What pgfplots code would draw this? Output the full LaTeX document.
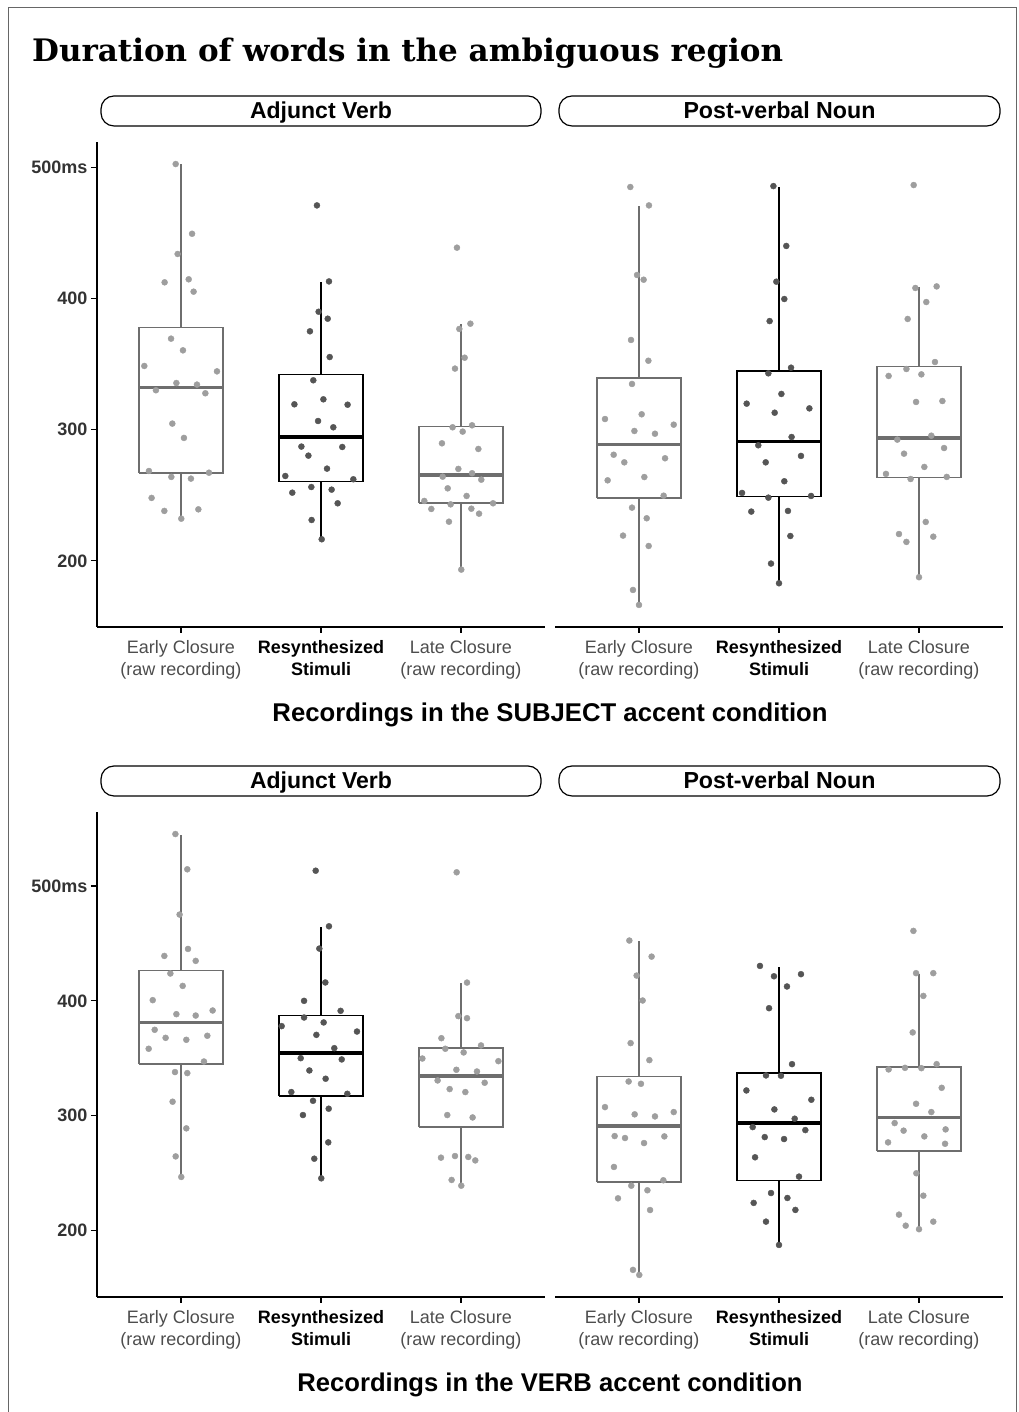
\documentclass[border=0pt]{standalone}
\usepackage{pgfplots}
\pgfplotsset{compat=1.18}
\usepackage{fontspec}
\setmainfont{Liberation Sans}
\newfontfamily\titlefont{DejaVu Serif}
\definecolor{ptlight}{HTML}{9E9E9E}
\definecolor{ptdark}{HTML}{555555}
\definecolor{boxgray}{HTML}{6E6E6E}
\definecolor{labgray}{HTML}{4D4D4D}
\definecolor{ticklab}{HTML}{333333}

% #1 colour, #2 left, #3 centre, #4 right, #5 lower whisker, #6 lower quartile, #7 median, #8 upper quartile, #9 upper whisker
\newcommand{\bx}[9]{%
  \addplot[#1, line width=1.7pt, forget plot] coordinates {(#3,#8) (#3,#9)};
  \addplot[#1, line width=1.7pt, forget plot] coordinates {(#3,#6) (#3,#5)};
  \addplot[#1, line width=1.7pt, fill=white, line join=miter, forget plot] coordinates {(#2,#6) (#4,#6) (#4,#8) (#2,#8) (#2,#6)};
  \addplot[#1, line width=3.6pt, forget plot] coordinates {(#2,#7) (#4,#7)};
}

\pgfplotsset{
  panel/.style={
    scale only axis, width=448pt, height=485pt,
    xmin=0.4, xmax=3.6,
    axis x line*=bottom, axis y line*=left,
    axis line style={line width=1.1pt, black},
    xtick={1,2,3},
    xticklabels={{\color{labgray}Early Closure\\\color{labgray}(raw recording)},
                 {\bfseries Resynthesized\\\bfseries Stimuli},
                 {\color{labgray}Late Closure\\\color{labgray}(raw recording)}},
    xticklabel style={align=center, font=\fontsize{18}{22}\selectfont, yshift=-4pt},
    ytick={200,300,400,500},
    yticklabels={\textbf{200},\textbf{300},\textbf{400},\textbf{500ms}},
    yticklabel style={font=\fontsize{18}{22}\selectfont, text=ticklab},
    tick style={line width=1.1pt, black},
    tick align=outside,
    major tick length=6pt,
  },
  rpanel/.style={panel, axis y line=none, ytick=\empty},
  ptl/.style={only marks, mark=*, mark size=3pt, color=ptlight, mark options={draw=none, fill=ptlight}},
  ptd/.style={only marks, mark=*, mark size=3pt, color=ptdark, mark options={draw=none, fill=ptdark}},
}

\begin{document}
\begin{tikzpicture}
\path[use as bounding box] (0pt,0pt) rectangle (1018pt,1412pt);
\draw[line width=1pt, black!60] (8pt,-2pt) -- (8pt,1404pt) -- (1016pt,1404pt) -- (1016pt,-2pt);

\node[anchor=base west, inner sep=0pt] at (32pt,1350pt) {\resizebox{751pt}{!}{\titlefont\bfseries Duration of words in the ambiguous region}};

\draw[line width=1.2pt, rounded corners=13pt] (101pt,1286pt) rectangle (541pt,1316pt);
\draw[line width=1.2pt, rounded corners=13pt] (559pt,1286pt) rectangle (1000pt,1316pt);
\node[anchor=base, inner sep=0pt] at (321pt,1293pt) {\resizebox{142pt}{!}{\bfseries Adjunct Verb}};
\node[anchor=base, inner sep=0pt] at (779.5pt,1293pt) {\resizebox{192pt}{!}{\bfseries Post-verbal Noun}};
\draw[line width=1.2pt, rounded corners=13pt] (101pt,616pt) rectangle (541pt,646pt);
\draw[line width=1.2pt, rounded corners=13pt] (559pt,616pt) rectangle (1000pt,646pt);
\node[anchor=base, inner sep=0pt] at (321pt,623pt) {\resizebox{142pt}{!}{\bfseries Adjunct Verb}};
\node[anchor=base, inner sep=0pt] at (779.5pt,623pt) {\resizebox{192pt}{!}{\bfseries Post-verbal Noun}};
\node at (550pt,697pt) {\resizebox{555pt}{!}{\bfseries Recordings in the SUBJECT accent condition}};
\node at (550pt,27pt) {\resizebox{505pt}{!}{\bfseries Recordings in the VERB accent condition}};

% ---------- top left
\begin{axis}[panel, at={(97pt,785pt)}, anchor=south west, ymin=149.7, ymax=519.1]
\bx{boxgray}{0.7}{1}{1.3}{232.2}{266.8}{332.2}{377.9}{502.3}
\bx{black}{1.7}{2}{2.3}{216.3}{260.4}{294.4}{341.9}{412.7}
\bx{boxgray}{2.7}{3}{3.3}{193.4}{243.9}{265.5}{302.3}{380.4}
\addplot[ptl] coordinates {(0.962,502.3) (1.079,449.2) (0.976,433.8) (0.883,412.2) (1.055,414.5) (1.090,405.1) (0.929,369.3) (1.014,360.4) (0.738,348.5) (1.257,344.4) (0.967,335.5) (1.114,334.3) (0.821,330.0) (1.174,327.7) (0.938,304.6) (1.021,293.7) (0.771,268.5) (1.200,267.2) (0.931,264.0) (1.071,262.7) (0.790,248.0) (0.881,238.1) (1.124,239.3) (1.002,232.2)};
\addplot[ptd] coordinates {(1.971,470.8) (2.057,412.9) (1.983,389.8) (2.048,384.5) (1.921,374.9) (2.062,355.3) (1.945,337.6) (2.017,323.1) (1.810,319.3) (2.190,319.0) (1.979,306.6) (2.088,301.8) (1.860,287.1) (2.152,286.8) (1.910,280.2) (2.043,270.3) (1.745,264.7) (2.231,262.2) (1.931,256.3) (2.076,254.3) (1.795,252.0) (2.119,243.9) (1.933,231.2) (2.005,216.5)};
\addplot[ptl] coordinates {(2.971,438.6) (3.067,380.7) (2.988,376.7) (3.026,354.8) (2.957,346.5) (2.940,301.8) (3.079,303.3) (3.012,298.5) (2.864,289.6) (3.124,285.3) (2.981,270.1) (2.869,264.2) (3.079,266.8) (3.145,261.9) (2.905,255.3) (3.040,249.5) (2.738,245.7) (3.229,243.9) (2.926,243.1) (2.788,239.6) (3.074,239.8) (3.129,236.0) (2.914,229.9) (3.002,193.4)};
\end{axis}

% ---------- top right
\begin{axis}[rpanel, at={(555pt,785pt)}, anchor=south west, ymin=149.7, ymax=519.1]
\bx{boxgray}{0.7}{1}{1.3}{166.5}{247.7}{288.8}{339.1}{470.3}
\bx{black}{1.7}{2}{2.3}{183.0}{249.0}{290.9}{344.7}{485.0}
\bx{boxgray}{2.7}{3}{3.3}{187.6}{263.5}{293.7}{348.0}{408.4}
\addplot[ptl] coordinates {(0.938,484.8) (1.071,470.8) (0.986,417.8) (1.033,414.2) (0.943,368.3) (1.067,352.5) (0.950,334.8) (1.019,311.7) (0.757,308.1) (1.248,303.8) (0.967,299.0) (1.114,296.9) (0.819,280.9) (0.895,275.1) (1.186,278.2) (0.776,261.4) (1.038,263.9) (1.176,249.7) (0.950,240.6) (1.055,232.5) (0.886,219.3) (1.069,211.4) (0.957,177.9) (1.000,166.5)};
\addplot[ptd] coordinates {(1.960,485.5) (2.052,439.9) (1.981,412.7) (2.038,399.5) (1.933,382.7) (2.086,347.2) (1.924,342.9) (2.017,327.2) (1.769,319.8) (2.217,316.2) (1.969,312.9) (2.090,294.4) (1.852,288.1) (2.157,280.0) (1.905,275.1) (2.038,260.7) (1.736,251.8) (2.229,249.5) (1.924,248.2) (1.802,237.6) (2.064,238.1) (2.081,219.0) (1.943,198.0) (2.000,183.0)};
\addplot[ptl] coordinates {(2.962,486.3) (2.974,407.9) (3.126,409.1) (3.052,397.2) (2.919,384.3) (3.114,351.5) (2.910,346.2) (3.017,342.1) (2.783,340.9) (2.979,321.1) (3.167,321.8) (3.088,295.4) (2.845,292.4) (3.179,286.0) (2.893,281.7) (3.038,271.6) (2.764,266.3) (3.198,264.0) (2.940,262.4) (3.048,229.7) (2.857,220.5) (3.102,218.5) (2.910,214.5) (3.000,187.6)};
\end{axis}

% ---------- bottom left
\begin{axis}[panel, at={(97pt,115pt)}, anchor=south west, ymin=142.2, ymax=564.4]
\bx{boxgray}{0.7}{1}{1.3}{246.7}{344.9}{381.2}{426.4}{544.6}
\bx{black}{1.7}{2}{2.3}{245.2}{317.4}{354.5}{387.2}{464.6}
\bx{boxgray}{2.7}{3}{3.3}{239.1}{290.4}{334.5}{358.8}{415.9}
\addplot[ptl] coordinates {(0.960,545.2) (1.045,514.5) (0.990,475.1) (1.050,445.2) (0.881,439.1) (1.105,434.8) (0.924,423.8) (1.012,413.0) (0.798,400.6) (0.967,388.4) (1.105,387.2) (1.226,391.6) (0.812,374.8) (0.890,367.8) (1.038,366.1) (1.188,369.6) (0.769,358.3) (1.164,347.2) (0.957,338.0) (1.045,337.1) (0.940,312.2) (1.038,289.0) (0.962,264.6) (1.002,246.7)};
\addplot[ptd] coordinates {(1.962,513.3) (2.057,464.9) (1.988,445.5) (2.031,416.0) (1.879,400.0) (2.140,391.3) (1.879,385.5) (2.019,381.2) (1.719,378.0) (1.967,370.4) (2.257,373.3) (2.095,358.8) (1.855,350.1) (2.148,349.0) (1.917,339.4) (2.033,332.2) (1.788,320.6) (2.188,319.1) (1.943,313.0) (2.055,306.1) (1.871,300.6) (2.052,276.8) (1.952,262.6) (2.002,245.5)};
\addplot[ptl] coordinates {(2.969,511.9) (3.043,415.9) (2.981,386.7) (3.043,384.9) (2.860,367.5) (2.888,358.3) (3.143,361.2) (3.019,355.1) (2.724,349.8) (3.267,347.5) (2.967,340.0) (3.114,338.5) (2.833,330.7) (3.169,328.7) (2.919,323.2) (3.031,320.6) (2.902,300.6) (3.083,298.5) (2.857,263.5) (2.957,264.9) (3.052,264.1) (3.102,261.1) (2.933,244.1) (3.002,239.1)};
\end{axis}

% ---------- bottom right
\begin{axis}[rpanel, at={(555pt,115pt)}, anchor=south west, ymin=142.2, ymax=564.4]
\bx{boxgray}{0.7}{1}{1.3}{161.4}{242.3}{291.0}{334.2}{451.9}
\bx{black}{1.7}{2}{2.3}{187.5}{243.5}{293.6}{337.4}{429.8}
\bx{boxgray}{2.7}{3}{3.3}{201.2}{269.0}{298.6}{342.6}{423.5}
\addplot[ptl] coordinates {(0.931,452.5) (1.090,438.5) (0.983,422.0) (1.026,400.3) (0.940,363.2) (1.074,348.4) (0.926,329.8) (1.014,327.8) (0.757,307.5) (0.969,301.2) (1.114,299.4) (1.248,303.2) (0.826,282.3) (0.900,280.6) (1.181,282.0) (1.036,276.2) (0.821,255.4) (1.174,243.8) (0.945,239.1) (1.060,235.1) (0.850,228.1) (1.079,217.9) (0.957,165.8) (1.002,161.4)};
\addplot[ptd] coordinates {(1.864,430.4) (1.964,421.4) (2.157,423.2) (2.057,412.5) (1.929,393.6) (2.093,344.9) (1.907,335.1) (2.014,334.8) (1.767,322.0) (2.231,313.9) (1.967,305.5) (2.112,297.4) (1.812,290.1) (2.188,287.5) (1.898,281.4) (2.036,279.7) (1.829,263.8) (2.143,247.0) (1.943,232.7) (1.819,224.1) (2.060,228.4) (2.117,218.0) (1.907,207.8) (2.000,187.5)};
\addplot[ptl] coordinates {(2.960,460.9) (2.979,424.1) (3.102,424.1) (3.031,404.3) (2.955,372.5) (3.126,344.9) (2.783,340.3) (2.900,341.7) (3.017,341.4) (3.162,324.3) (2.979,310.4) (3.088,303.2) (2.826,293.6) (2.890,287.0) (3.190,288.1) (3.038,282.0) (2.779,276.8) (3.186,275.6) (2.981,249.9) (3.031,230.4) (2.857,213.9) (3.102,207.8) (2.905,204.3) (3.000,201.2)};
\end{axis}
\end{tikzpicture}
\end{document}
